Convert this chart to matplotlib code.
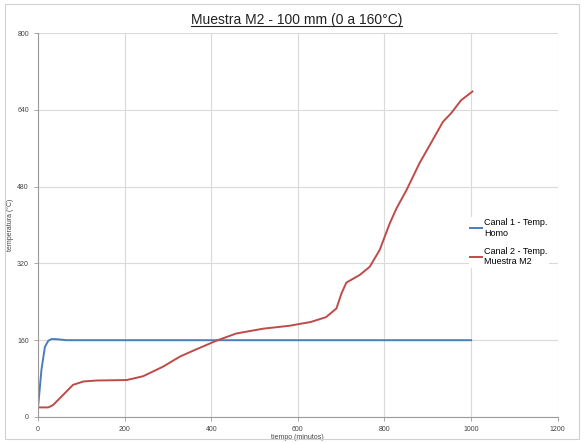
import numpy as np
import matplotlib
matplotlib.use("Agg")
import matplotlib.pyplot as plt
from matplotlib.lines import Line2D
from matplotlib.patches import Rectangle

plt.rcParams['font.family'] = ['Liberation Sans', 'DejaVu Sans']

# canal 1 - horno
t_horno = [0, 1, 8, 16, 24, 32, 45, 66, 80, 200, 400, 600, 800, 1000]
temp_horno = [21, 28, 98, 146, 159, 162.5, 162, 160, 160, 160, 160, 160, 160, 160]

# canal 2 - muestra M2
t_muestra = [0, 24, 35, 58, 81, 105, 135, 205, 243, 289, 328, 358, 412, 458,
             520, 580, 630, 665, 689, 701, 712, 743, 766, 789, 812, 828, 851,
             881, 905, 935, 954, 977, 1003]
temp_muestra = [20, 20, 25, 46, 67, 74, 76, 77, 85, 105, 126, 138, 159, 174,
                184, 190, 198, 208, 226, 258, 280, 296, 313, 348, 403, 435, 473,
                529, 567, 615, 633, 660, 678]

xticks = [0, 200, 400, 600, 800, 1000, 1200]
yticks = [0, 160, 320, 480, 640, 800]

fig = plt.figure(figsize=(5.84, 4.43), dpi=100)
ax = fig.add_axes([0.065, 0.0587, 0.89, 0.8668])

ax.plot(t_horno, temp_horno, color='#4a7ebb', lw=1.4, label='Canal 1 - Temp.\nHomo')
ax.plot(t_muestra, temp_muestra, color='#be4b48', lw=1.4, label='Canal 2 - Temp.\nMuestra M2')

ax.set_xlim(0, 1200)
ax.set_ylim(0, 800)
ax.set_xticks(xticks)
ax.set_yticks(yticks)
ax.grid(True, color='#dadada', lw=0.8)
ax.set_axisbelow(True)
for s in ['top', 'right']:
    ax.spines[s].set_visible(False)
for s in ['left', 'bottom']:
    ax.spines[s].set_color('#9a9a9a')
    ax.spines[s].set_linewidth(0.8)
ax.tick_params(labelsize=5, colors='#9a9a9a', labelcolor='#444444', length=3, width=0.6)
ax.set_xlabel('tiempo (minutos)', fontsize=5, color='#444444', labelpad=1)
ax.set_ylabel('temperatura (°C)', fontsize=5, color='#444444', labelpad=2)

leg = ax.legend(loc='center left', bbox_to_anchor=(0.82, 0.455), fontsize=6.5,
                frameon=True, framealpha=1, edgecolor='none', facecolor='white',
                handlelength=1.3, handletextpad=0.2, labelspacing=1.0, borderpad=0.2)

title = fig.text(0.508, 0.955, 'Muestra M2 - 100 mm (0 a 160°C)', fontsize=10,
                 ha='center', va='center', color='#222222')

# subrayado del titulo
fig.canvas.draw()
bb = title.get_window_extent().transformed(fig.transFigure.inverted())
fig.add_artist(Line2D([bb.x0, bb.x1], [bb.y0 + 0.003, bb.y0 + 0.003],
                      transform=fig.transFigure, color='#222222', lw=0.8))

fig.add_artist(Rectangle((0.008, 0.008), 0.984, 0.984, transform=fig.transFigure,
                         fill=False, edgecolor='#d0d0d0', lw=0.8))

fig.savefig('out.png', dpi=100)
